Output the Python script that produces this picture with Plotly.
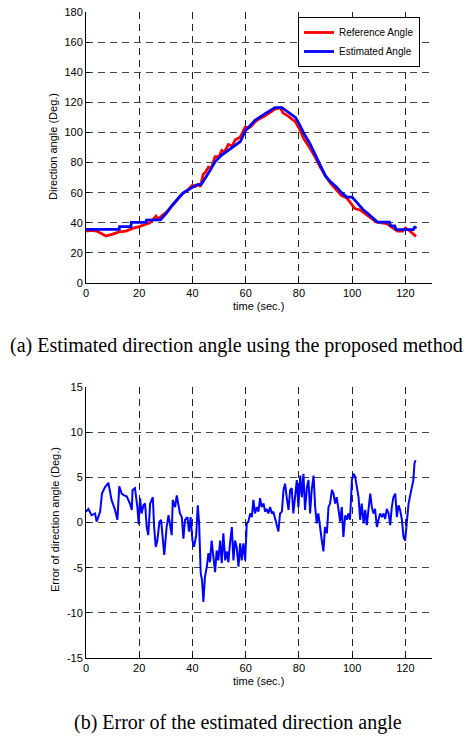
import plotly.graph_objects as go

W, H = 467, 736

# ---------------- data ----------------
ref_t = [0, 2, 4, 6, 7.5, 10, 12.5, 15, 17.5, 20, 22, 24, 25, 26.3, 27, 28.8, 30.5, 32.6, 34.5,
         36.3, 38, 40, 41, 42.2, 43, 44, 45, 46, 47, 48.5, 50, 51, 52, 53.5, 55, 56, 58, 59.8,
         61, 62, 63.5, 65, 67.3, 69, 71, 73, 74, 76.2, 78.7, 80, 81.8, 84, 86, 88, 90, 92, 94,
         96, 98, 100, 101, 103, 105, 107, 109, 111, 113, 115, 117, 119, 120, 121, 122, 124]
ref_v = [34.5, 35, 34.5, 32.5, 31.2, 32.5, 34, 34.5, 36.3, 37.5, 38.5, 40, 41.8, 44.5, 42.5,
         45.3, 47.5, 52, 56, 59.4, 61.5, 65, 64, 65.5, 64, 72, 74, 77, 76, 84, 84, 88, 87, 92,
         91, 95, 97, 103.5, 103, 104, 107, 109, 111, 113, 115.5, 116.5, 113, 110.5, 107, 103,
         96, 90, 84, 77, 71, 66, 62, 58, 56.5, 52, 49.5, 48.5, 46, 43, 40.5, 40, 39.5, 37,
         34.5, 34.5, 36.5, 35.5, 34, 31]

est_t = [0, 12.5, 12.6, 16.9, 17.0, 22.6, 22.7, 28, 30, 32.6, 36.3, 38.5, 41.4, 43, 43.5, 46,
         48.5, 51, 53.5, 56, 58, 59.8, 61.5, 63.5, 67.3, 71, 73.6, 76.2, 78.7, 80, 81.8, 84,
         86, 88, 90, 92, 94, 96, 98, 100, 102, 104, 106, 108, 109.5, 114, 114.5, 116, 116.5,
         123, 123.5, 124]
est_v = [35.6, 35.6, 37.4, 37.4, 40.3, 40.3, 41.8, 42, 46, 52, 59.5, 62, 65, 65.5, 66, 73,
         80.5, 85, 88, 91.5, 94, 101, 104, 108, 112.5, 116.5, 116.5, 113, 110, 106, 99.5, 93,
         86, 78, 71, 67, 64, 60, 57, 57, 53, 49, 46, 43, 40.5, 40.5, 38, 38, 35.5, 35.5, 37.5,
         36]

err_t = [0, 0.9, 2.1, 3.4, 4, 5.3, 6, 7.1, 8.4, 9.6, 10.9, 11.8, 12.5, 13.4, 14.3, 15.3, 16.5,
         17.2, 17.5, 18.4, 19.3, 19.8, 20.3, 20.9, 21.6, 22.2, 22.8, 23.4, 24.1, 25.1, 25.6,
         26.2, 26.8, 27.6, 28.2, 28.8, 29.4, 30.3, 31, 31.6, 32.2, 32.6, 33.5, 34.1, 34.7,
         35.3, 36, 36.6, 37.2, 38.1, 38.7, 39.3, 40, 40.6, 41.4, 42, 42.5, 43.1, 43.6, 44.1,
         44.7, 45.4, 46, 46.6, 47.2, 47.9, 48.5, 49.1, 49.7, 50.4, 51, 51.6, 52.3, 52.9, 53.5,
         54.1, 54.8, 55.4, 56, 56.6, 57.3, 57.9, 58.5, 59.1, 59.8, 60.4, 61, 61.7, 62.3, 62.9,
         63.5, 64.2, 64.8, 65.4, 66, 66.7, 67.3, 67.9, 68.5, 69.2, 69.8, 70.4, 71.1, 71.7,
         72.3, 72.9, 73.6, 74.2, 74.8, 75.4, 76.1, 76.7, 77.3, 77.9, 78.6, 79.2, 79.8, 80.5,
         81.1, 81.7, 82.3, 83, 83.6, 84.2, 84.8, 85.5, 86.1, 86.7, 87.3, 88, 88.6, 89.2, 89.8,
         90.5, 91.1, 91.7, 92.4, 93, 93.6, 94.2, 94.9, 95.5, 96.1, 96.7, 97.4, 98, 98.6, 99.2,
         99.9, 100.5, 101.1, 101.8, 102.4, 103, 103.6, 104.3, 104.9, 105.5, 106.1, 106.8,
         107.4, 108, 108.6, 109.3, 109.9, 110.5, 111.2, 111.8, 112.4, 113, 113.7, 114.3,
         114.9, 115.5, 116.2, 116.8, 117.4, 118, 118.7, 119.3, 119.9, 120.5, 121.2, 121.8,
         122.4, 123, 123.4, 123.8]
err_v = [1.2, 1.5, 0.8, 1.0, 0.1, 1.2, 3.2, 3.9, 4.4, 2.5, 1.4, 0.3, 4.0, 3.2, 3.0, 2.9, 2.1,
         1.4, 3.6, 3.8, 1.7, -0.2, 2.7, 1.0, 1.9, 2.1, -0.5, -1.4, 2.1, 2.8, -0.5, -2.7, -2.0,
         0.1, 0.3, -2.0, -3.6, -0.5, 0.8, -0.3, -1.4, 2.5, 1.7, 3.0, 1.7, 1.0, 0.6, -1.8, 0.3,
         0.6, -1.0, 0.6, -2.0, -2.7, -1.4, 1.9, -0.1, -5.6, -6.4, -8.8, -6.0, -4.9, -3.4, -4.4,
         -2.0, -4.4, -5.5, -3.1, -4.2, -2.0, -4.5, -1.2, -4.2, -3.2, -4.4, -2.3, -0.5, -4.2,
         -2.0, -2.7, -4.9, -2.3, -4.2, -2.3, -4.2, -0.1, 0.1, 1.0, 0.6, 2.5, 1.0, 1.7, 1.2,
         2.7, 1.7, 2.1, 1.2, 1.5, 1.0, 1.7, 1.0, 1.2, 0.4, -0.5, -1.0, 1.0, 1.2, 3.6, 4.3, 2.8,
         1.4, 3.6, 3.8, 1.0, 3.2, 4.7, 1.7, 5.2, 2.8, 5.4, 1.4, 3.9, 4.7, 1.0, 3.6, 5.2, 1.7,
         -0.1, 1.0, -1.0, -2.0, -3.2, -0.5, -1.2, 1.7, 2.1, 3.6, 3.2, 2.1, 2.8, 1.4, 0.1, 1.7,
         -1.6, 0.8, 0.3, 1.0, 0.3, 4.7, 5.4, 5.1, 3.8, 2.8, 0.3, 2.1, -0.1, 1.4, -0.3, 1.7,
         3.2, 1.7, 1.0, 1.5, -0.5, 0.3, 1.0, 0.6, 1.0, 0.4, 1.5, 1.0, -0.3, 1.7, 2.8, 3.2,
         0.6, 1.9, 1.4, 0.3, -1.6, -2.0, -0.1, 2.1, 3.0, 3.9, 4.7, 6.5, 6.9]

x_ticks = [0, 20, 40, 60, 80, 100, 120]
y1_ticks = [0, 20, 40, 60, 80, 100, 120, 140, 160, 180]
y2_ticks = [-15, -10, -5, 0, 5, 10, 15]
y2_labels = ["-15", "-10", "-5", "0", "5", "10", "15"]

# ---------------- figure ----------------
def px_x(p):
    return p / W

def px_y(p):
    return 1 - p / H

fig = go.Figure()
fig.add_trace(go.Scatter(x=ref_t, y=ref_v, mode="lines", name="Reference Angle",
                         line=dict(color="#ff0000", width=2.8), xaxis="x", yaxis="y"))
fig.add_trace(go.Scatter(x=est_t, y=est_v, mode="lines", name="Estimated Angle",
                         line=dict(color="#0000ff", width=2.8), xaxis="x", yaxis="y"))
fig.add_trace(go.Scatter(x=err_t, y=err_v, mode="lines", name="Error", showlegend=False,
                         line=dict(color="#0000ff", width=2.0), xaxis="x2", yaxis="y2"))

tickfont = dict(family="Liberation Sans, Arial, sans-serif", size=11, color="#000")
common_x = dict(range=[0, 130], tickvals=x_ticks, showgrid=True, gridcolor="#222",
                griddash="7px,5px", gridwidth=1, showline=True, linecolor="#000", linewidth=1,
                ticks="inside", ticklen=4, tickcolor="#000", tickfont=tickfont, zeroline=False,
                automargin=False, domain=[px_x(86), px_x(432)], fixedrange=True)
common_y = dict(showgrid=True, gridcolor="#444", griddash="7px,5px", gridwidth=1,
                showline=True, linecolor="#000", linewidth=1, ticks="inside", ticklen=4,
                tickcolor="#000", tickfont=tickfont, zeroline=False, automargin=False,
                fixedrange=True)

fig.update_layout(
    width=W, height=H,
    margin=dict(l=0, r=0, t=0, b=0),
    paper_bgcolor="white", plot_bgcolor="white",
    xaxis=dict(**common_x, anchor="y"),
    yaxis=dict(**common_y, range=[0, 180], tickvals=y1_ticks, anchor="x",
               domain=[px_y(283), px_y(12)]),
    xaxis2=dict(**common_x, anchor="y2"),
    yaxis2=dict(**common_y, range=[-15, 15], tickvals=y2_ticks, ticktext=y2_labels,
                anchor="x2", domain=[px_y(658), px_y(387)]),
    legend=dict(x=px_x(298), y=px_y(17), xanchor="left", yanchor="top",
                bgcolor="white", bordercolor="#000", borderwidth=1,
                font=dict(family="Liberation Sans, Arial, sans-serif", size=10, color="#000"),
                tracegroupgap=0, itemwidth=30),
    showlegend=True,
)

labfont = dict(family="Liberation Sans, Arial, sans-serif", size=11, color="#000")
capfont = dict(family="Liberation Serif, Times New Roman, serif", size=20, color="#000")
annots = [
    dict(text="Direction angle (Deg.)", x=px_x(53), y=px_y(147), textangle=-90, font=labfont),
    dict(text="time (sec.)", x=px_x(258), y=px_y(306), font=labfont),
    dict(text="Error of direction angle (Deg.)", x=px_x(55), y=px_y(520), textangle=-90,
         font=labfont),
    dict(text="time (sec.)", x=px_x(258), y=px_y(681), font=labfont),
    dict(text="(a) Estimated direction angle using the proposed method", x=px_x(237),
         y=px_y(345), font=capfont),
    dict(text="(b) Error of the estimated direction angle", x=px_x(238), y=px_y(722),
         font=capfont),
]
for a in annots:
    fig.add_annotation(xref="paper", yref="paper", showarrow=False, xanchor="center",
                       yanchor="middle", **a)

fig.write_html("out.html", config={"displayModeBar": False},
               post_script="document.body.style.margin='0px';document.body.style.padding='0px';")
